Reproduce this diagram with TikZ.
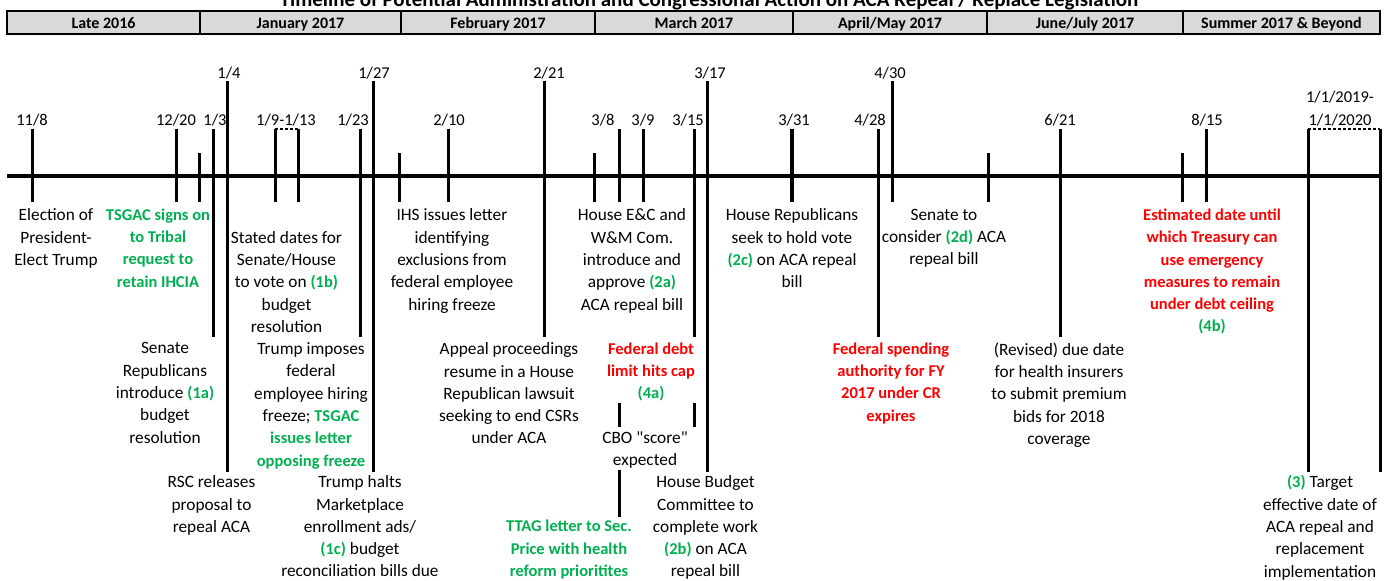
\documentclass[tikz,border=0pt]{standalone}
\usepackage{fontspec}
\setmainfont{Carlito}
\definecolor{accgreen}{HTML}{00B050}
\definecolor{accred}{HTML}{FF0000}
\definecolor{hdrgray}{HTML}{D9D9D9}
\newcommand\grn[1]{\textcolor{accgreen}{\bfseries\fontsize{16.5}{22.4}\selectfont #1}}
\tikzset{
  tickln/.style={line width=3pt},
  axisln/.style={line width=4pt},
  rangeln/.style={line width=1.4pt, dash pattern=on 3pt off 2pt},
  blk/.style={anchor=north, align=center, inner sep=0pt, font=\fontsize{17.3}{22.3}\selectfont, execute at begin node=\strut},
  redblk/.style={blk, text=accred, font=\bfseries\fontsize{16.5}{22.3}\selectfont},
  grnblk/.style={blk, text=accgreen, font=\bfseries\fontsize{16.5}{22.3}\selectfont},
  datelbl/.style={anchor=base, inner sep=0pt, font=\fontsize{16.5}{20}\selectfont},
  hdrtxt/.style={anchor=base, inner sep=0pt, font=\bfseries\fontsize{16}{18}\selectfont},
}
\begin{document}
\begin{tikzpicture}[x=1pt, y=-1pt]
\useasboundingbox (0,0) rectangle (1390,581);
\fill[white] (0,0) rectangle (1390,581);
% title (cut off at the top, as in the reference)
\node[anchor=base, inner sep=0pt, font=\bfseries\fontsize{21}{24}\selectfont] (title) at (709,6.5)
  {Timeline of Potential Administration and Congressional Action on ACA Repeal / Replace Legislation};
% header bar
\fill[hdrgray] (7,11) rectangle (1380,34);
\foreach \xa in {200,401,595,793,987,1183}{\draw[line width=2pt] (\xa,11) -- (\xa,34);}
\draw[line width=2.5pt] (7,11) rectangle (1380,34);
\node[hdrtxt] (h1) at (103.5,28.5) {Late 2016};
\node[hdrtxt] (h2) at (300.5,28.5) {January 2017};
\node[hdrtxt] (h3) at (498,28.5) {February 2017};
\node[hdrtxt] (h4) at (694,28.5) {March 2017};
\node[hdrtxt] (h5) at (890,28.5) {April/May 2017};
\node[hdrtxt] (h6) at (1085,28.5) {June/July 2017};
\node[hdrtxt] (h7) at (1281.5,28.5) {Summer 2017 \& Beyond};
% axis
\draw[axisln] (7,176) -- (1382,176);
% short unlabeled ticks
\foreach \xa in {199,399,594,988,1182}{\draw[tickln] (\xa,153) -- (\xa,202);}
% standard ticks
\foreach \xa in {32,176,275,298,448,619,643,1206}{\draw[tickln] (\xa,129) -- (\xa,202);}
\draw[line width=3.6pt] (792,129) -- (792,202);
% medium ticks
\foreach \xa in {213,360,694,878,1060}{\draw[tickln] (\xa,129) -- (\xa,337);}
% tall ticks
\foreach \xa in {227,373,707}{\draw[tickln] (\xa,81) -- (\xa,472);}
\draw[tickln] (544,81) -- (544,337);
\draw[tickln] (892,81) -- (892,202);
\foreach \xa in {1308,1380}{\draw[tickln] (\xa,129) -- (\xa,472);}
% extra segments
\draw[tickln] (619,403) -- (619,427);
\draw[tickln] (619,470) -- (619,517);
\draw[tickln] (694,403) -- (694,427);
% range brackets
\draw[rangeln] (275,129) -- (298,129);
\draw[rangeln] (1308,129) -- (1380,129);
% date labels
\node[datelbl] (d1) at (32,125.3) {11/8};
\node[datelbl] (d2) at (176,125.3) {12/20};
\node[datelbl] (d3) at (215,125.3) {1/3};
\node[datelbl] (d4) at (229,78.3) {1/4};
\node[datelbl] (d5) at (286,125.3) {1/9-1/13};
\node[datelbl] (d6) at (353,125.3) {1/23};
\node[datelbl] (d7) at (374,78.3) {1/27};
\node[datelbl] (d8) at (449,125.3) {2/10};
\node[datelbl] (d9) at (549,78.3) {2/21};
\node[datelbl] (d10) at (603,125.3) {3/8};
\node[datelbl] (d11) at (643,125.3) {3/9};
\node[datelbl] (d12) at (688,125.3) {3/15};
\node[datelbl] (d13) at (710,78.3) {3/17};
\node[datelbl] (d14) at (794,125.3) {3/31};
\node[datelbl] (d15) at (870,125.3) {4/28};
\node[datelbl] (d16) at (890,78.3) {4/30};
\node[datelbl] (d17) at (1060,125.3) {6/21};
\node[datelbl] (d18) at (1207,125.3) {8/15};
\node[datelbl] (d19) at (1340,102.3) {1/1/2019-};
\node[datelbl] (d20) at (1340,125.3) {1/1/2020};
% event texts: row starting at line 0
\node[blk] (e1) at (56,208.6) {Election of\\President-\\Elect Trump};
\node[grnblk] (e2) at (158,208.6) {TSGAC signs on\\to Tribal\\request to\\retain IHCIA};
\node[blk] (e3) at (286.5,231) {Stated dates for\\Senate/House\\to vote on \grn{(1b)}\\budget\\resolution};
\node[blk] (e4) at (452,208.6) {IHS issues letter\\identifying\\exclusions from\\federal employee\\hiring freeze};
\node[blk] (e5) at (632,208.6) {House E\&C and\\W\&M Com.\\introduce and\\approve \grn{(2a)}\\ACA repeal bill};
\node[blk] (e6) at (792,208.6) {House Republicans\\seek to hold vote\\\grn{(2c)} on ACA repeal\\bill};
\node[blk] (e7) at (944,208.6) {Senate to\\consider \grn{(2d)} ACA\\repeal bill};
\node[redblk] (e8) at (1212,208.6) {Estimated date until\\which Treasury can\\use emergency\\measures to remain\\under debt ceiling\\\grn{(4b)}};
% row starting at line 6
\node[blk] (e9) at (165,342.5) {Senate\\Republicans\\introduce \grn{(1a)}\\budget\\resolution};
\node[blk] (e10) at (311,342.5) {Trump imposes\\federal\\employee hiring\\freeze; \grn{TSGAC}\\\grn{issues letter}\\\grn{opposing freeze}};
\node[blk] (e11) at (509,342.5) {Appeal proceedings\\resume in a House\\Republican lawsuit\\seeking to end CSRs\\under ACA};
\node[redblk] (e12) at (651,342.5) {Federal debt\\limit hits cap\\\grn{(4a)}};
\node[redblk] (e14) at (891,342.5) {Federal spending\\authority for FY\\2017 under CR\\expires};
\node[blk] (e15) at (1059,342.5) {(Revised) due date\\for health insurers\\to submit premium\\bids for 2018\\coverage};
% line 10
\node[blk] (e13) at (645,431.5) {CBO \textquotedbl score\textquotedbl\\expected};
% line 12
\node[blk] (e16) at (211.5,475.5) {RSC releases\\proposal to\\repeal ACA};
\node[blk] (e17) at (360,475.5) {Trump halts\\Marketplace\\enrollment ads/\\\grn{(1c)} budget\\reconciliation bills due};
\node[blk] (e19) at (705.5,475.5) {House Budget\\Committee to\\complete work\\\grn{(2b)} on ACA\\repeal bill};
\node[blk] (e20) at (1320,475.5) {\grn{(3)} Target\\effective date of\\ACA repeal and\\replacement\\implementation};
% line 14
\node[grnblk] (e18) at (569,520) {TTAG letter to Sec.\\Price with health\\reform prioritites};
\end{tikzpicture}
\end{document}
